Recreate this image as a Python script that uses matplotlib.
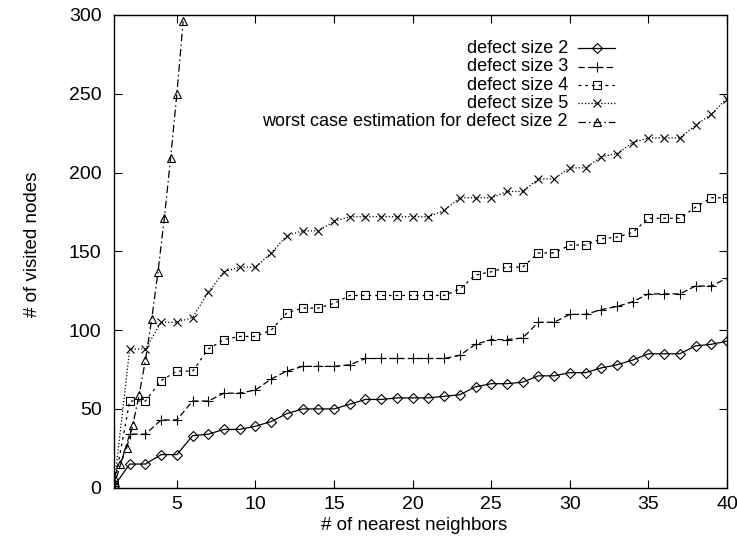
import matplotlib
matplotlib.use("Agg")
import matplotlib.pyplot as plt
from matplotlib.lines import Line2D

plt.rcParams['font.family'] = ['Liberation Sans', 'DejaVu Sans']

# number of nearest neighbours
neighbors = list(range(1, 41))

size2 = [1, 15, 15, 21, 21, 33, 34, 37, 37, 39,
         42, 47, 50, 50, 50, 53, 56, 56, 57, 57,
         57, 58, 59, 64, 66, 66, 67, 71, 71, 73,
         73, 76, 78, 81, 85, 85, 85, 90, 91, 93]

size3 = [1, 34, 34, 43, 43, 55, 55, 60, 60, 62,
         69, 74, 77, 77, 77, 78, 82, 82, 82, 82,
         82, 82, 84, 91, 94, 94, 95, 105, 105, 110,
         110, 113, 115, 118, 123, 123, 123, 128, 128, 133]

size4 = [1, 55, 55, 68, 74, 74, 88, 94, 96, 96,
         100, 111, 114, 114, 117, 122, 122, 122, 122, 122,
         122, 122, 126, 135, 137, 140, 140, 149, 149, 154,
         154, 158, 159, 162, 171, 171, 171, 178, 184, 184]

size5 = [1, 88, 88, 105, 105, 108, 124, 137, 140, 140,
         149, 160, 163, 163, 169, 172, 172, 172, 172, 172,
         172, 176, 184, 184, 184, 188, 188, 196, 196, 203,
         203, 210, 212, 219, 222, 222, 222, 230, 237, 247]

worst_x = [1.0, 1.4, 1.8, 2.2, 2.6, 3.0, 3.4, 3.8, 4.2, 4.6, 5.0, 5.4]
worst_y = [7, 15, 25, 40, 59, 81, 107, 137, 171, 209, 250, 296]

labels = ["defect size 2", "defect size 3", "defect size 4",
          "defect size 5", "worst case estimation for defect size 2"]

W, H = 737, 538
fig = plt.figure(figsize=(W / 100, H / 100), dpi=100)
x0, x1, y0, y1 = 114, 727, 487.7, 15
ax = fig.add_axes([x0 / W, 1 - y0 / H, (x1 - x0) / W, (y0 - y1) / H])

lw = 0.9
mew = 0.8
styles = [
    dict(ls='-', marker='D', ms=4.8),
    dict(ls=(0, (5, 2.5)), marker='+', ms=7),
    dict(ls=(0, (2.2, 3.2)), marker='s', ms=5.5),
    dict(ls=(0, (1, 1.6)), marker='x', ms=6),
    dict(ls=(0, (6, 2.5, 1.2, 2.5)), marker='^', ms=6),
]
series = [(neighbors, size2), (neighbors, size3), (neighbors, size4),
          (neighbors, size5), (worst_x, worst_y)]

for (xs, ys), st in zip(series, styles):
    ax.plot(xs, ys, color='black', lw=lw, mfc='none', mec='black',
            mew=mew, clip_on=True, **st)

ax.set_xlim(1, 40)
ax.set_ylim(0, 300)
ax.set_xticks(range(5, 41, 5))
ax.set_yticks(range(0, 301, 50))
ax.tick_params(direction='in', length=6, width=0.8, top=True, right=True,
               labelsize=14, pad=9)
ax.tick_params(axis='x', pad=6)
for sp in ax.spines.values():
    sp.set_linewidth(1.0)

ax.set_xlabel("# of nearest neighbors", fontsize=13.5)
ax.set_ylabel("# of visited nodes", fontsize=13.5)
ax.xaxis.set_label_coords((414 - x0) / (x1 - x0), (y0 - 525) / (y0 - y1))
ax.xaxis.label.set_va('center')
ax.yaxis.set_label_coords((33 - x0) / (x1 - x0), (y0 - 244) / (y0 - y1))
ax.yaxis.label.set_va('center')

# key: right-justified text followed by a short sample of each line style
row_y = [48.3, 66.7, 85.0, 103.3, 121.7]
text_right = 568
sample_l, sample_r = 578, 615
for lab, st, ry in zip(labels, styles, row_y):
    fy = 1 - ry / H
    fig.text(text_right / W, fy, lab, ha='right', va='center', fontsize=13)
    fig.add_artist(Line2D([sample_l / W, sample_r / W], [fy, fy],
                          transform=fig.transFigure, color='black', lw=lw,
                          ls=st['ls']))
    fig.add_artist(Line2D([(sample_l + sample_r) / 2 / W], [fy],
                          transform=fig.transFigure, color='black',
                          marker=st['marker'], ms=st['ms'], mfc='none',
                          mec='black', mew=mew, ls='none'))

fig.savefig("out.png", dpi=100)
